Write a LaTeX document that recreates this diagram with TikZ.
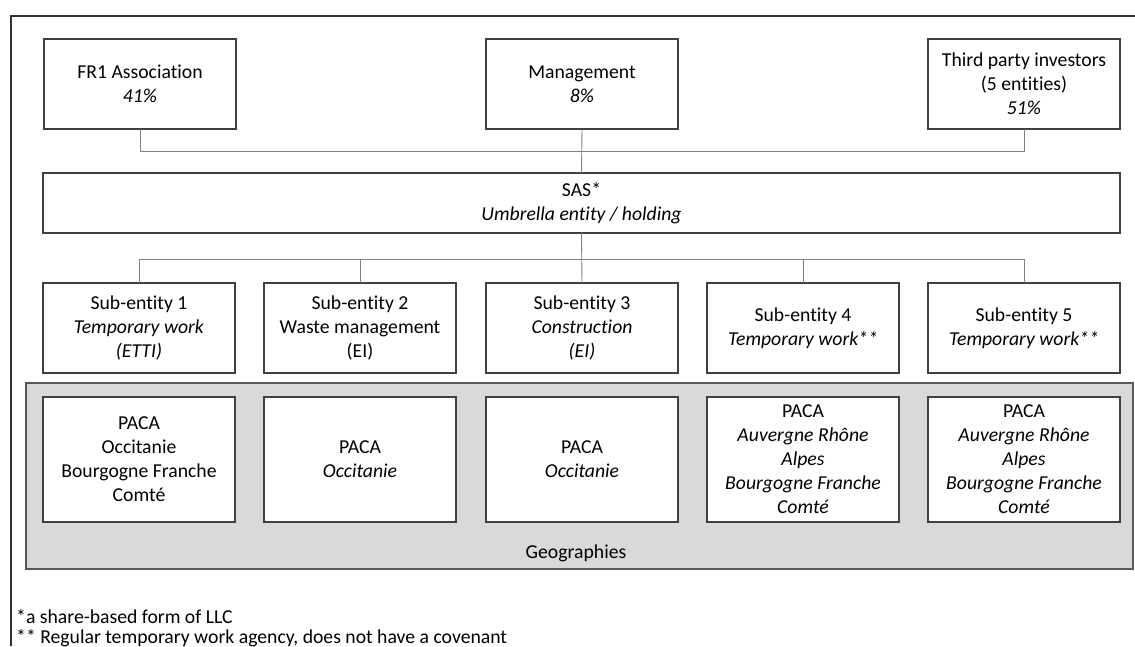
\documentclass[tikz,border=0pt]{standalone}
\usepackage{fontspec}
\setmainfont{Carlito}[Ligatures=NoCommon]
\usepackage{xcolor}
\usepackage{tikz}

\definecolor{boxline}{HTML}{404040}
\definecolor{linkline}{HTML}{808080}
\definecolor{panelfill}{HTML}{D9D9D9}
\definecolor{panelline}{HTML}{595959}

\begin{document}
\begin{tikzpicture}[x=1pt,y=-1pt]
    % Define styles
    \tikzset{
        entity/.style={rectangle, draw=boxline, line width=1.3pt, fill=white, inner sep=0pt, outer sep=0pt,
            minimum width=192pt, minimum height=90pt, align=center, font=\fontsize{19.7}{24}\selectfont},
        geo/.style={entity, minimum height=125pt},
        panel/.style={rectangle, draw=panelline, line width=1.3pt, fill=panelfill, inner sep=0pt,
            minimum width=1107pt, minimum height=186pt},
        link/.style={draw=linkline, line width=0.9pt},
        note/.style={anchor=west, inner sep=0pt, font=\fontsize{19.7}{21}\selectfont}
    }
    \useasboundingbox (0,0) rectangle (1135,646);

    % Frame
    \draw[line width=1.3pt, black!80] (11,646) -- (11,16) -- (1135,16);

    % Nodes
    \node[entity] (fr1) at (140,84) {FR1 Association\\ \textit{41\%}};
    \node[entity] (management) at (582,84) {Management\\ \textit{8\%}};
    \node[entity] (investors) at (1024,84) {Third party investors\\ (5 entities)\\ \textit{51\%}};
    \node[entity, minimum width=1077pt, minimum height=60pt] (sas) at (581.5,203) {SAS*\\ \textit{Umbrella entity / holding}};

    \node[entity] (sub1) at (139,328) {Sub-entity 1\\ \textit{Temporary work}\\ \textit{(ETTI)}};
    \node[entity] (sub2) at (360,328) {Sub-entity 2\\ Waste management\\ (EI)};
    \node[entity] (sub3) at (582,328) {Sub-entity 3\\ \textit{Construction}\\ \textit{(EI)}};
    \node[entity] (sub4) at (803,328) {Sub-entity 4\\ \textit{Temporary work**}};
    \node[entity] (sub5) at (1024,328) {Sub-entity 5\\ \textit{Temporary work**}};

    \node[panel] (geo_panel) at (579.5,476) {};
    \node[font=\fontsize{19.7}{24}\selectfont] (geo_label) at (576,553) {Geographies};
    \node[geo] (geo1) at (139,459.5) {PACA\\ Occitanie\\ Bourgogne Franche\\ Comté};
    \node[geo] (geo2) at (360,459.5) {PACA\\ \textit{Occitanie}};
    \node[geo] (geo3) at (582,459.5) {PACA\\ \textit{Occitanie}};
    \node[geo] (geo4) at (803,459.5) {PACA\\ \textit{Auvergne Rhône}\\ \textit{Alpes}\\ \textit{Bourgogne Franche}\\ \textit{Comté}};
    \node[geo] (geo5) at (1024,459.5) {PACA\\ \textit{Auvergne Rhône}\\ \textit{Alpes}\\ \textit{Bourgogne Franche}\\ \textit{Comté}};

    % Lines
    \draw[link] (fr1.south) -- ++(0,22) -| (investors.south);
    \draw[link] (management.south) -- (sas.north);
    \draw[link] (sas.south) -- (sub3.north);
    \draw[link] (sub1.north) -- ++(0,-24) -| (sub5.north);
    \draw[link] (sub2.north) -- ++(0,-24);
    \draw[link] (sub4.north) -- ++(0,-24);

    % Footnotes
    \node[note] (note1) at (16,617) {*a share-based form of LLC};
    \node[note] (note2) at (16,638) {** Regular temporary work agency, does not have a covenant};
\end{tikzpicture}
\end{document}
